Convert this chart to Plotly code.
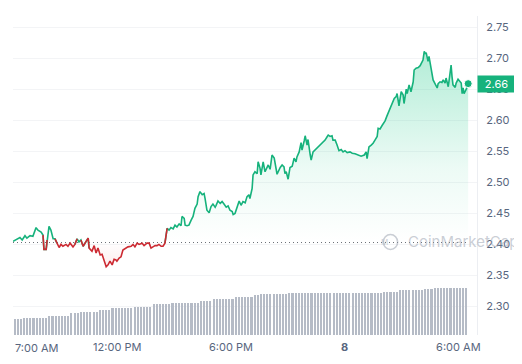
import plotly.graph_objects as go
import pandas as pd

START = "2024-03-07 06:30"
BASE = 2.403  # opening price (dotted reference line)
LAST_LABEL = "2.66"

# minutes after START for each price sample
minutes = [
    0, 13, 22, 29, 38, 44, 54, 63, 73, 79,
    89, 95, 98, 105, 108, 114, 120, 127, 133, 139,
    146, 152, 158, 168, 174, 181, 190, 196, 203, 209,
    215, 222, 228, 238, 241, 250, 257, 263, 269, 276,
    282, 288, 295, 301, 307, 314, 320, 326, 329, 336,
    342, 348, 358, 364, 374, 380, 386, 393, 399, 409,
    415, 424, 431, 437, 443, 450, 456, 462, 469, 475,
    481, 488, 494, 500, 507, 513, 519, 526, 532, 535,
    542, 545, 551, 557, 564, 570, 576, 583, 586, 592,
    599, 605, 608, 614, 621, 627, 633, 640, 643, 649,
    656, 662, 668, 675, 681, 687, 694, 697, 703, 709,
    716, 722, 728, 735, 741, 747, 750, 757, 760, 766,
    773, 776, 782, 785, 792, 798, 804, 808, 814, 820,
    827, 830, 836, 846, 852, 858, 861, 865, 871, 877,
    884, 890, 896, 899, 906, 912, 915, 922, 925, 931,
    934, 941, 944, 950, 956, 966, 979, 988, 994, 998,
    1004, 1010, 1013, 1020, 1026, 1032, 1039, 1045, 1051, 1058,
    1067, 1074, 1083, 1093, 1102, 1112, 1118, 1121, 1127, 1134,
    1140, 1146, 1153, 1156, 1162, 1169, 1178, 1184, 1194, 1200,
    1207, 1213, 1216, 1222, 1226, 1229, 1235, 1238, 1245, 1248,
    1254, 1257, 1260, 1267, 1270, 1276, 1283, 1289, 1292, 1298,
    1302, 1305, 1308, 1314, 1317, 1321, 1327, 1330, 1336, 1343,
    1346, 1352, 1358, 1362, 1368, 1371, 1378, 1381, 1387, 1390,
    1393, 1400, 1403, 1409, 1412, 1419, 1422, 1425, 1428, 1435,
    1441,
]

prices = [
    2.405, 2.409, 2.411, 2.407, 2.414, 2.410, 2.414, 2.413, 2.427, 2.423,
    2.420, 2.415, 2.392, 2.392, 2.407, 2.429, 2.423, 2.409, 2.409, 2.402,
    2.395, 2.400, 2.397, 2.400, 2.397, 2.402, 2.396, 2.400, 2.409, 2.404,
    2.407, 2.397, 2.402, 2.410, 2.394, 2.389, 2.398, 2.386, 2.394, 2.383,
    2.384, 2.375, 2.364, 2.367, 2.373, 2.367, 2.376, 2.375, 2.373, 2.378,
    2.380, 2.391, 2.394, 2.396, 2.397, 2.400, 2.396, 2.402, 2.400, 2.402,
    2.398, 2.402, 2.402, 2.394, 2.396, 2.398, 2.398, 2.400, 2.397, 2.397,
    2.402, 2.426, 2.423, 2.427, 2.425, 2.431, 2.428, 2.433, 2.430, 2.445,
    2.442, 2.431, 2.430, 2.431, 2.439, 2.445, 2.458, 2.465, 2.477, 2.485,
    2.480, 2.482, 2.474, 2.455, 2.451, 2.461, 2.465, 2.460, 2.463, 2.470,
    2.466, 2.469, 2.465, 2.460, 2.462, 2.455, 2.453, 2.448, 2.450, 2.458,
    2.470, 2.463, 2.469, 2.467, 2.477, 2.480, 2.474, 2.490, 2.512, 2.517,
    2.514, 2.533, 2.523, 2.512, 2.533, 2.517, 2.525, 2.528, 2.521, 2.544,
    2.539, 2.531, 2.513, 2.524, 2.528, 2.525, 2.514, 2.517, 2.505, 2.524,
    2.526, 2.539, 2.533, 2.541, 2.549, 2.564, 2.552, 2.567, 2.575, 2.560,
    2.569, 2.544, 2.536, 2.549, 2.552, 2.557, 2.562, 2.568, 2.573, 2.576,
    2.574, 2.575, 2.568, 2.568, 2.560, 2.551, 2.553, 2.549, 2.551, 2.548,
    2.549, 2.547, 2.546, 2.544, 2.542, 2.544, 2.549, 2.538, 2.557, 2.560,
    2.563, 2.568, 2.574, 2.587, 2.586, 2.592, 2.599, 2.607, 2.619, 2.626,
    2.635, 2.638, 2.643, 2.623, 2.633, 2.646, 2.641, 2.627, 2.650, 2.643,
    2.657, 2.652, 2.646, 2.662, 2.681, 2.684, 2.685, 2.688, 2.692, 2.697,
    2.711, 2.707, 2.709, 2.695, 2.703, 2.692, 2.678, 2.665, 2.659, 2.652,
    2.659, 2.662, 2.661, 2.665, 2.660, 2.668, 2.654, 2.665, 2.689, 2.670,
    2.657, 2.653, 2.660, 2.666, 2.664, 2.660, 2.643, 2.652, 2.643, 2.650,
    2.659,
]

# 10-minute volume bars (arbitrary units, millions)
volumes = [
    157, 157, 157, 173, 173, 173, 173, 173, 173, 173,
    173, 190, 190, 190, 190, 190, 190, 190, 217, 217,
    217, 233, 233, 233, 233, 233, 233, 247, 247, 247,
    247, 267, 267, 267, 267, 267, 267, 267, 283, 283,
    283, 283, 283, 283, 307, 307, 307, 307, 307, 307,
    323, 323, 323, 323, 323, 323, 323, 323, 323, 340,
    340, 340, 340, 357, 357, 357, 357, 357, 357, 357,
    383, 383, 383, 383, 383, 383, 397, 397, 413, 413,
    413, 413, 413, 413, 413, 413, 413, 423, 423, 423,
    423, 423, 423, 423, 423, 423, 423, 423, 423, 423,
    423, 423, 423, 423, 423, 423, 423, 423, 423, 423,
    423, 423, 423, 423, 423, 423, 423, 433, 433, 433,
    433, 433, 447, 447, 447, 447, 447, 447, 447, 447,
    457, 457, 457, 473, 473, 473, 473, 473, 473, 473,
    473, 473, 473, 473,
]

first_tick_label = "7:00 AM"
tick_times = ["2024-03-07 12:00", "2024-03-07 18:00",
              "2024-03-08 00:00", "2024-03-08 06:00"]
tick_labels = ["12:00 PM", "6:00 PM", "<b>8</b>", "6:00 AM"]
y_ticks = [2.30, 2.35, 2.40, 2.45, 2.50, 2.55, 2.60, 2.65, 2.70, 2.75]

assert len(minutes) == len(prices)
start = pd.Timestamp(START)
times = [start + pd.Timedelta(minutes=m) for m in minutes]
bar_times = pd.date_range(start + pd.Timedelta(minutes=5), periods=len(volumes), freq="10min")

GREEN = "#16b27c"
RED = "#cc2a32"
WM = "rgba(150,158,172,0.5)"
TXT = "#58667e"
n = len(prices)
up = [p >= BASE for p in prices]
green_y, red_y = [], []
for i, p in enumerate(prices):
    nb = [j for j in (i - 1, i, i + 1) if 0 <= j < n]
    green_y.append(p if any(up[j] for j in nb) else None)
    red_y.append(p if any(not up[j] for j in nb) else None)

fig = go.Figure()

fig.add_trace(go.Bar(
    x=bar_times, y=volumes, yaxis="y2",
    marker=dict(color="#b5bbc6", line=dict(width=0)),
    width=6.6 * 60 * 1000, hoverinfo="skip", showlegend=False,
))

# dotted opening-price line (also fill reference)
fig.add_trace(go.Scatter(
    x=[times[0], times[-1]], y=[BASE, BASE], mode="lines",
    line=dict(color="#6b6f76", width=1, dash="1px,3px"),
    hoverinfo="skip", showlegend=False,
))

lo, hi = 2.36, 2.72
f0 = (BASE - lo) / (hi - lo)
fig.add_trace(go.Scatter(
    x=times, y=prices, mode="lines", line=dict(width=0, color="rgba(0,0,0,0)"),
    fill="tonexty",
    fillgradient=dict(
        type="vertical", start=lo, stop=hi,
        colorscale=[
            [0.0, "rgba(234,57,67,0.10)"],
            [f0, "rgba(234,57,67,0)"],
            [f0 + 0.001, "rgba(22,199,132,0)"],
            [0.45, "rgba(22,199,132,0.08)"],
            [1.0, "rgba(22,199,132,0.34)"],
        ],
    ),
    hoverinfo="skip", showlegend=False,
))

fig.add_trace(go.Scatter(
    x=times, y=green_y, mode="lines", line=dict(color=GREEN, width=1.6),
    connectgaps=False, hoverinfo="skip", showlegend=False,
))
fig.add_trace(go.Scatter(
    x=times, y=red_y, mode="lines", line=dict(color=RED, width=1.6),
    connectgaps=False, hoverinfo="skip", showlegend=False,
))
fig.add_trace(go.Scatter(
    x=[times[-1]], y=[prices[-1]], mode="markers",
    marker=dict(color=GREEN, size=8, line=dict(color="white", width=1)),
    hoverinfo="skip", showlegend=False,
))

# page body has an 8px margin: figure is sized to fit the 522x364 window
fig.update_layout(
    width=514, height=356,
    margin=dict(l=5, r=45, t=8, b=29, autoexpand=False),
    paper_bgcolor="white", plot_bgcolor="white",
    font=dict(family="Inter, Roboto, sans-serif", size=11, color=TXT),
    showlegend=False,
    bargap=0,
    xaxis=dict(
        type="date", automargin=False,
        range=["2024-03-07 06:30", "2024-03-08 06:59"],
        tickvals=tick_times, ticktext=tick_labels,
        showgrid=False, zeroline=False, showline=False, ticks="",
        ticklabelstandoff=4,
        tickfont=dict(size=11, color=TXT),
    ),
    yaxis=dict(
        side="right", range=[2.254, 2.768], automargin=False,
        tickvals=y_ticks, tickformat=".2f",
        showgrid=True, gridcolor="#f3f4f6", gridwidth=1,
        zeroline=False, showline=True, linecolor="#eceef2", linewidth=1,
        ticks="", ticklabelstandoff=6,
        tickfont=dict(size=11, color=TXT),
    ),
    yaxis2=dict(
        overlaying="y", range=[0, 3190], visible=False, fixedrange=True,
        automargin=False,
    ),
    annotations=[
        # first time label kept inside the chart's left edge, as in the source
        dict(
            x=START, xref="x", xanchor="left", y=-0.041, yref="paper",
            yanchor="middle", text=first_tick_label, showarrow=False,
            font=dict(size=11, color=TXT),
        ),
        dict(
            x=1, xref="paper", xanchor="left", y=prices[-1], yref="y",
            text=LAST_LABEL, showarrow=False, bgcolor=GREEN,
            font=dict(color="white", size=11), width=37, height=16,
            borderpad=0,
        ),
        dict(
            x=0.846, xref="paper", xanchor="left", y=0.292, yref="paper",
            yanchor="middle",
            text="CoinMarketCap", showarrow=False,
            font=dict(size=15, color=WM),
        ),
        dict(
            x=0.8135, xref="paper", y=0.2915, yref="paper", yanchor="middle",
            text="M", showarrow=False,
            font=dict(size=8, color=WM),
        ),
    ],
    shapes=[
        dict(type="circle", xref="paper", yref="paper",
             x0=0.798, x1=0.829, y0=0.268, y1=0.315,
             line=dict(color=WM, width=1.6)),
    ],
)

fig.write_html("out.html")
